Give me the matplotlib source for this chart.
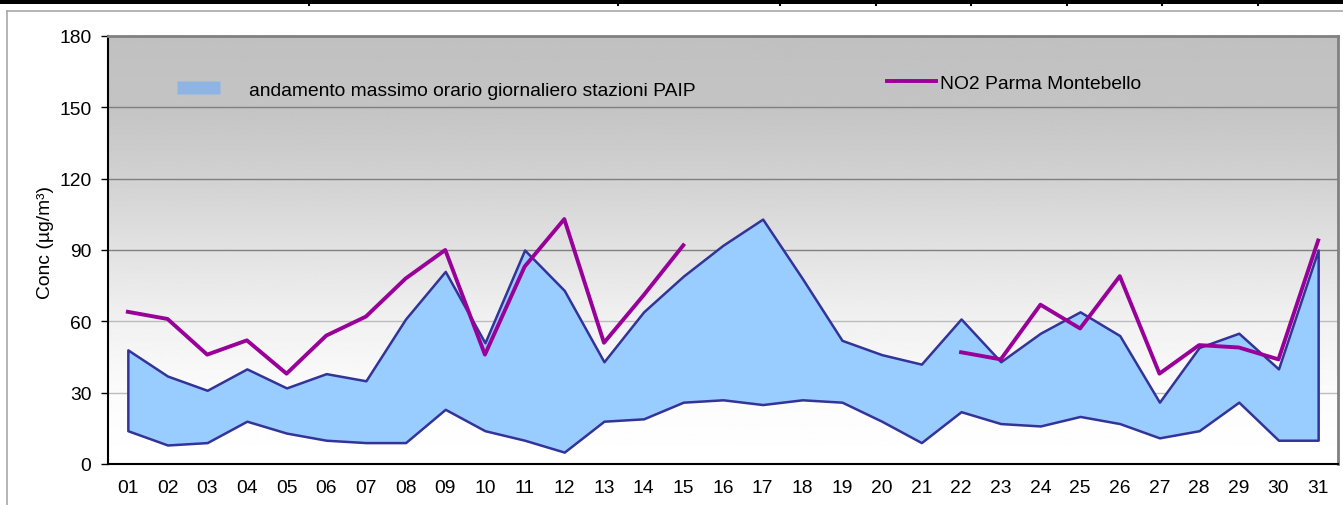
import numpy as np
import matplotlib.pyplot as plt
from matplotlib.lines import Line2D
from matplotlib.patches import Patch, Rectangle

plt.rcParams['font.family'] = ['Liberation Sans', 'DejaVu Sans']

# giorni del mese
days = ['01', '02', '03', '04', '05', '06', '07', '08', '09', '10',
        '11', '12', '13', '14', '15', '16', '17', '18', '19', '20',
        '21', '22', '23', '24', '25', '26', '27', '28', '29', '30', '31']

# banda massimi orari giornalieri stazioni PAIP (min / max)
paip_min = [14, 8, 9, 18, 13, 10, 9, 9, 23, 14,
            10, 5, 18, 19, 26, 27, 25, 27, 26, 18,
            9, 22, 17, 16, 20, 17, 11, 14, 26, 10, 10]
paip_max = [48, 37, 31, 40, 32, 38, 35, 61, 81, 51,
            90, 73, 43, 64, 79, 92, 103, 78, 52, 46,
            42, 61, 43, 55, 64, 54, 26, 49, 55, 40, 90]

# NO2 Parma Montebello (dati mancanti 16-21)
no2_montebello = [64, 61, 46, 52, 38, 54, 62, 78, 90, 46,
                  83, 103, 51, 71, 92, np.nan, np.nan, np.nan, np.nan, np.nan,
                  np.nan, 47, 44, 67, 57, 79, 38, 50, 49, 44, 94]

FS = 13.9
W, H = 1343, 506
fig = plt.figure(figsize=(W / 100, H / 100), dpi=100)
ax = fig.add_axes([108 / W, 41 / H, 1230 / W, 428 / H])
x = np.arange(len(days))

# sfondo sfumato grigio -> bianco
grad_levels = [0, 30, 60, 90, 120, 150, 180]
grad_values = [255, 251, 241, 226, 210, 196, 192]
yy = np.linspace(0, 180, 256)
shade = np.interp(yy, grad_levels, grad_values) / 255
ax.imshow(shade[:, None], extent=(-0.5, len(days) - 0.5, 0, 180), origin='lower',
          aspect='auto', cmap='gray', vmin=0, vmax=1, zorder=0)

for v in [30, 60, 90, 120, 150]:
    ax.axhline(v, color='#808080' if v >= 90 else '#bdbdbd', lw=1, zorder=1)

ax.fill_between(x, paip_min, paip_max, facecolor='#99CCFF', edgecolor='#333399',
                linewidth=1.8, zorder=2)
ax.plot(x, no2_montebello, color='#990099', lw=2.8, zorder=3)

ax.set_xlim(-0.5, len(days) - 0.5)
ax.set_ylim(0, 180)
ax.set_yticks([0, 30, 60, 90, 120, 150, 180])
ax.set_xticks(x)
ax.set_xticklabels(days)
ax.tick_params(axis='x', length=0, pad=11, labelsize=FS)
ax.tick_params(axis='y', length=5, width=1, pad=7, labelsize=FS)
ax.set_ylabel('Conc (µg/m³)', fontsize=FS)
ax.yaxis.set_label_coords(-0.044, 0.52)

for side in ['left', 'bottom']:
    ax.spines[side].set_color('black')
    ax.spines[side].set_linewidth(1.5)
for side in ['top', 'right']:
    ax.spines[side].set_color('#808080')
    ax.spines[side].set_linewidth(2)

leg1 = ax.legend(handles=[Patch(facecolor='#8DB4E2', edgecolor='#a9bcd3', lw=0.6)],
                 labels=['andamento massimo orario giornaliero stazioni PAIP'],
                 loc='center left', bbox_to_anchor=(177 / W, 1 - 91 / H),
                 bbox_transform=fig.transFigure, frameon=False, fontsize=FS,
                 borderpad=0, borderaxespad=0, handlelength=2.24, handleheight=0.65,
                 handletextpad=1.5)
ax.add_artist(leg1)
ax.legend(handles=[Line2D([], [], color='#990099', lw=2.8)],
          labels=['NO2 Parma Montebello'],
          loc='center left', bbox_to_anchor=(887 / W, 1 - 84 / H),
          bbox_transform=fig.transFigure, frameon=False, fontsize=FS,
          borderpad=0, borderaxespad=0, handlelength=2.55, handletextpad=0.22)

# cornice del grafico e bordo tabella in alto
fig.add_artist(Line2D([7 / W, 1], [1 - 12 / H, 1 - 12 / H], color='#a8a8a8', lw=1.2))
fig.add_artist(Line2D([7 / W, 7 / W], [0, 1 - 12 / H], color='#a8a8a8', lw=1.2))
fig.add_artist(Rectangle((0, 1 - 5 / H), 1, 5 / H, transform=fig.transFigure,
                         color='black', lw=0))
for xd in [309, 618, 780, 876, 971, 1067, 1162, 1258]:
    fig.add_artist(Line2D([xd / W, xd / W], [1 - 6 / H, 1], color='black', lw=1.5))

fig.savefig('out.png', dpi=100)
